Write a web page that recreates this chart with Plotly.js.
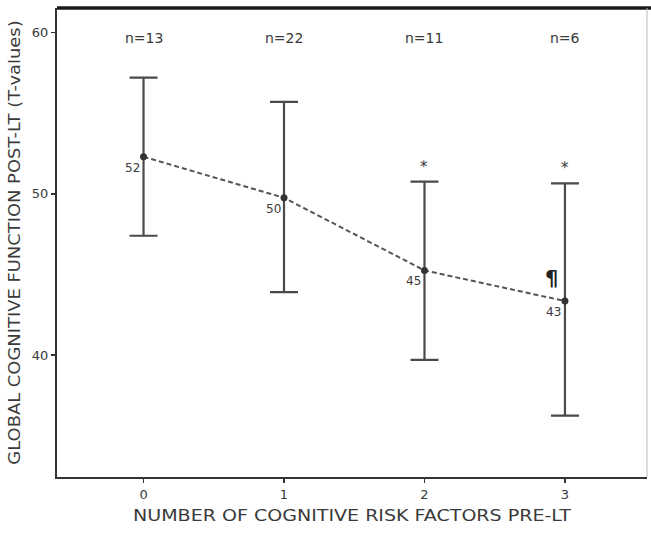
<!DOCTYPE html>
<html>
<head>
<meta charset="utf-8">
<script src="https://cdn.plot.ly/plotly-3.0.1.min.js"></script>
<style>
  html, body { margin: 0; padding: 0; background: #fff; }
  #chart { width: 651px; height: 533px; }
</style>
</head>
<body>
<div id="chart"></div>
<script>
// Number of cognitive risk factors before liver transplantation
const riskFactors = [0, 1, 2, 3];
// Mean global cognitive function (T-values) after LT, with 95% CI bounds
const meanT = [52.3, 49.75, 45.25, 43.35];
const upperCI = [57.2, 55.7, 50.75, 50.65];
const lowerCI = [47.4, 43.9, 39.7, 36.25];
// Group sizes
const groupN = [13, 22, 11, 6];
// Significance markers
const starGroups = [2, 3];
const pilcrowGroup = 3;

const textColor = '#3a3a3a';
const fontFamily = 'DejaVu Sans, Arial, sans-serif';

const trace = {
  x: riskFactors,
  y: meanT,
  type: 'scatter',
  mode: 'lines+markers',
  line: { color: '#555', width: 2, dash: '5px,3px' },
  marker: { color: '#333', size: 7, symbol: 'circle' },
  error_y: {
    type: 'data',
    symmetric: false,
    array: upperCI.map((u, i) => u - meanT[i]),
    arrayminus: lowerCI.map((l, i) => meanT[i] - l),
    color: '#4a4a4a',
    thickness: 2.2,
    width: 14
  },
  hoverinfo: 'skip'
};

const annotations = [];

// n per group along the top
riskFactors.forEach((x, i) => {
  annotations.push({
    x: x, y: 59.65, xref: 'x', yref: 'y',
    text: 'n=' + groupN[i], showarrow: false,
    font: { family: fontFamily, size: 14, color: textColor }
  });
});

// mean value labels just below-left of each point
riskFactors.forEach((x, i) => {
  annotations.push({
    x: x, y: meanT[i], xref: 'x', yref: 'y',
    text: String(Math.round(meanT[i])), showarrow: false,
    xshift: -11, yshift: -11,
    font: { family: fontFamily, size: 12, color: textColor }
  });
});

// asterisks above the upper CI bound
starGroups.forEach(g => {
  annotations.push({
    x: g, y: upperCI[g], xref: 'x', yref: 'y',
    text: '*', showarrow: false, yshift: 15,
    font: { family: fontFamily, size: 15, color: textColor }
  });
});

// pilcrow marker beside the last group
annotations.push({
  x: pilcrowGroup, y: meanT[pilcrowGroup], xref: 'x', yref: 'y',
  text: '<b>¶</b>', showarrow: false, xshift: -13, yshift: 22,
  font: { family: fontFamily, size: 21, color: '#222' }
});

const layout = {
  width: 651,
  height: 533,
  margin: { l: 57, r: 4, t: 8, b: 56 },
  paper_bgcolor: '#fff',
  plot_bgcolor: '#fff',
  showlegend: false,
  xaxis: {
    range: [-0.616, 3.584],
    tickvals: riskFactors,
    ticktext: riskFactors.map(String),
    ticks: 'outside', ticklen: 4, tickwidth: 1.5, tickcolor: '#333',
    showgrid: false, zeroline: false,
    showline: true, linecolor: '#333', linewidth: 2,
    tickfont: { family: fontFamily, size: 13, color: textColor },
    title: {
      text: 'NUMBER OF COGNITIVE RISK FACTORS PRE-LT',
      font: { family: fontFamily, size: 16, color: textColor },
      standoff: 9
    }
  },
  yaxis: {
    range: [32.44, 61.52],
    tickvals: [40, 50, 60],
    ticks: 'outside', ticklen: 4, tickwidth: 1.5, tickcolor: '#333',
    showgrid: false, zeroline: false,
    showline: true, linecolor: '#333', linewidth: 2,
    tickfont: { family: fontFamily, size: 13, color: textColor },
    title: {
      text: 'GLOBAL COGNITIVE FUNCTION POST-LT (T-values)',
      font: { family: fontFamily, size: 16, color: textColor },
      standoff: 7
    }
  },
  shapes: [
    // heavy top frame line
    { type: 'line', xref: 'paper', yref: 'paper', x0: 0, x1: 1.01, y0: 1, y1: 1,
      line: { color: '#1a1a1a', width: 3.5 } },
    // light right frame line
    { type: 'line', xref: 'paper', yref: 'paper', x0: 1, x1: 1, y0: 0, y1: 1,
      line: { color: '#bbb', width: 1 } }
  ],
  annotations: annotations
};

// widen an axis title along its reading direction, keeping it centred
function stretchTitle(selector, factor, vertical) {
  const el = document.querySelector(selector);
  if (!el) return;
  const prev = el.getAttribute('transform') || '';
  const r = el.getBoundingClientRect();
  let t;
  if (vertical) {
    const cy = r.top + r.height / 2;
    t = `translate(0,${cy}) scale(1,${factor}) translate(0,${-cy}) ` + prev;
  } else {
    const cx = r.left + r.width / 2;
    t = `translate(${cx},0) scale(${factor},1) translate(${-cx},0) ` + prev;
  }
  el.setAttribute('transform', t.trim());
}

Plotly.newPlot('chart', [trace], layout, { staticPlot: true, displayModeBar: false })
  .then(() => {
    stretchTitle('.g-xtitle text', 1.19, false);
    stretchTitle('.g-ytitle text', 1.12, true);
  });
</script>
</body>
</html>
